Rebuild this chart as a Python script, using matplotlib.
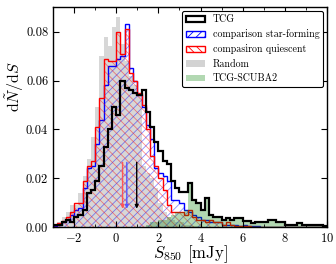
import numpy as np
import matplotlib
matplotlib.use('Agg')
from matplotlib import pyplot as plt
from matplotlib.patches import Patch

plt.rcParams['font.family'] = 'serif'
plt.rcParams['font.serif'] = ['cmr10']
plt.rcParams['mathtext.fontset'] = 'cm'
plt.rcParams['axes.formatter.use_mathtext'] = True
plt.rcParams['hatch.linewidth'] = 0.6

# bin edges in mJy, 0.2 mJy wide
edges = np.round(np.arange(-3.0, 10.01, 0.2), 2)

# TCG
tcg = [.001, .001, .002, .003, .002, .004, .005, .007, .014, .015,
       .019, .025, .033, .040, .049, .046, .060, .057, .056, .055,
       .054, .056, .047, .041, .035, .031, .027, .026, .019, .016,
       .0145, .0145, .018, .011, .010, .007, .012, .005, .004, .004,
       .003, .0035, .003, .0037, .0037, .0026, .0026, .0016, .002, .002,
       .002, .003, .003, .002, .002, .001, .0008, .0008, .0015, .0008,
       .0008, .0008, .0008, .0008, .0005]
# comparison star-forming
sf = [.0005, .001, .002, .003, .005, .007, .008, .016, .024, .025,
      .034, .044, .058, .066, .066, .069, .070, .083, .065, .060,
      .054, .049, .042, .036, .024, .022, .021, .019, .011, .011,
      .010, .007, .006, .005, .004, .003, .003, .002, .002, .002,
      .001, .001, .001, .001, .0005, .001, .0005, .0005, .0005, 0,
      0, 0, 0, 0, 0, 0, 0, 0, 0, 0,
      0, 0, 0, 0, 0]
# comparison quiescent
qu = [.001, .0015, .0025, .004, .006, .010, .010, .019, .025, .027,
      .041, .053, .069, .068, .068, .080, .071, .081, .063, .060,
      .055, .050, .040, .029, .025, .020, .015, .009, .006, .006,
      .006, .005, .007, .004, .003, .003, .002, .003, .002, .002,
      .001, .002, .001, .0005, .0005, .0005, .0005, 0, 0, 0,
      0, 0, 0, 0, 0, 0, 0, 0, 0, 0,
      0, 0, 0, 0, 0]
# random positions
rand = [.001, .002, .004, .006, .009, .009, .014, .021, .028, .037,
        .049, .070, .078, .074, .082, .086, .075, .068, .062, .058,
        .055, .025, .022, .020, .016, .010, .006, .004, .003, .002,
        .002, .001, .001, .0005, .0005, 0, 0, 0, 0, 0,
        0, 0, 0, 0, 0, 0, 0, 0, 0, 0,
        0, 0, 0, 0, 0, 0, 0, 0, 0, 0,
        0, 0, 0, 0, 0]
# TCG-SCUBA2
scuba = [0, 0, 0, 0, 0, 0, 0, 0, 0, 0,
         0, 0, 0, 0, 0, 0, 0, 0, 0, 0,
         0, 0, .001, .002, .002, .003, .003, .004, .005, .006,
         .006, .007, .018, .011, .010, .007, .012, .005, .004, .004,
         .003, .0035, .003, .0037, .0037, .0026, .0026, .0016, .002, .002,
         .002, .003, .003, .002, .002, .001, .0008, .0008, .0015, .0008,
         .0008, .0008, .0008, .0008, .0005]

medians = [0.30, 0.50, 0.97]
median_colors = ['#ff5555', '#5555ff', 'k']

fig = plt.figure(figsize=(3.36, 2.64), dpi=100)
ax = fig.add_axes([0.158, 0.140, 0.815, 0.832])

ax.stairs(rand, edges, fill=True, color='lightgray', alpha=0.9, lw=0)
ax.stairs(sf, edges, fill=True, facecolor='none', edgecolor=(0, 0, 1, 0.45),
          hatch='////', lw=0)
ax.stairs(sf, edges, color='b', lw=1.0)
ax.stairs(qu, edges, fill=True, facecolor='none', edgecolor=(1, 0, 0, 0.45),
          hatch='\\\\\\\\', lw=0)
ax.stairs(qu, edges, color='r', lw=1.0)
ax.stairs(scuba, edges, fill=True, color='g', alpha=0.3, lw=0)
ax.stairs(tcg, edges, color='k', lw=1.6)

for m, c in zip(medians, median_colors):
    ax.annotate('', xy=(m, 0.0075), xytext=(m, 0.0265),
                arrowprops=dict(arrowstyle='-|>', color=c, lw=1.0,
                                mutation_scale=5, shrinkA=0, shrinkB=0))

ax.set_xlim(-3, 10)
ax.set_ylim(0, 0.09)
ax.set_xticks(np.arange(-2, 11, 2))
ax.set_xticks(np.arange(-3, 11, 1), minor=True)
ax.set_yticks(np.arange(0, 0.081, 0.02))
ax.yaxis.set_major_formatter(plt.FormatStrFormatter('%.2f'))
ax.tick_params(which='both', direction='in', top=True, right=True, labelsize=9)
ax.tick_params(which='major', length=4)
ax.tick_params(which='minor', length=2)
for s in ax.spines.values():
    s.set_linewidth(1.0)

ax.set_xlabel(r'$S_{850}$ [mJy]', fontsize=12, labelpad=-1)
ax.set_ylabel(r'$\mathrm{d}\tilde{N}/\mathrm{d}S$', fontsize=11.5)
ax.yaxis.set_label_coords(-0.098, 0.64)

handles = [
    Patch(facecolor='white', edgecolor='k', lw=1.6, label='TCG'),
    Patch(facecolor='white', edgecolor='b', hatch='////', lw=1.0,
          label='comparison star-forming'),
    Patch(facecolor='white', edgecolor='r', hatch='\\\\\\\\', lw=1.0,
          label='compasiron quiescent'),
    Patch(facecolor='lightgray', edgecolor='none', label='Random'),
    Patch(facecolor='g', alpha=0.3, edgecolor='none', label='TCG-SCUBA2'),
]
leg = ax.legend(handles=handles, loc='upper right', fontsize=7.2,
                frameon=True, fancybox=True, framealpha=1,
                handlelength=1.9, handleheight=0.6, labelspacing=0.5,
                borderpad=0.4, handletextpad=0.8, borderaxespad=0.35)
leg.get_frame().set_edgecolor('k')
leg.get_frame().set_linewidth(0.8)

fig.savefig('out.png', dpi=100)
